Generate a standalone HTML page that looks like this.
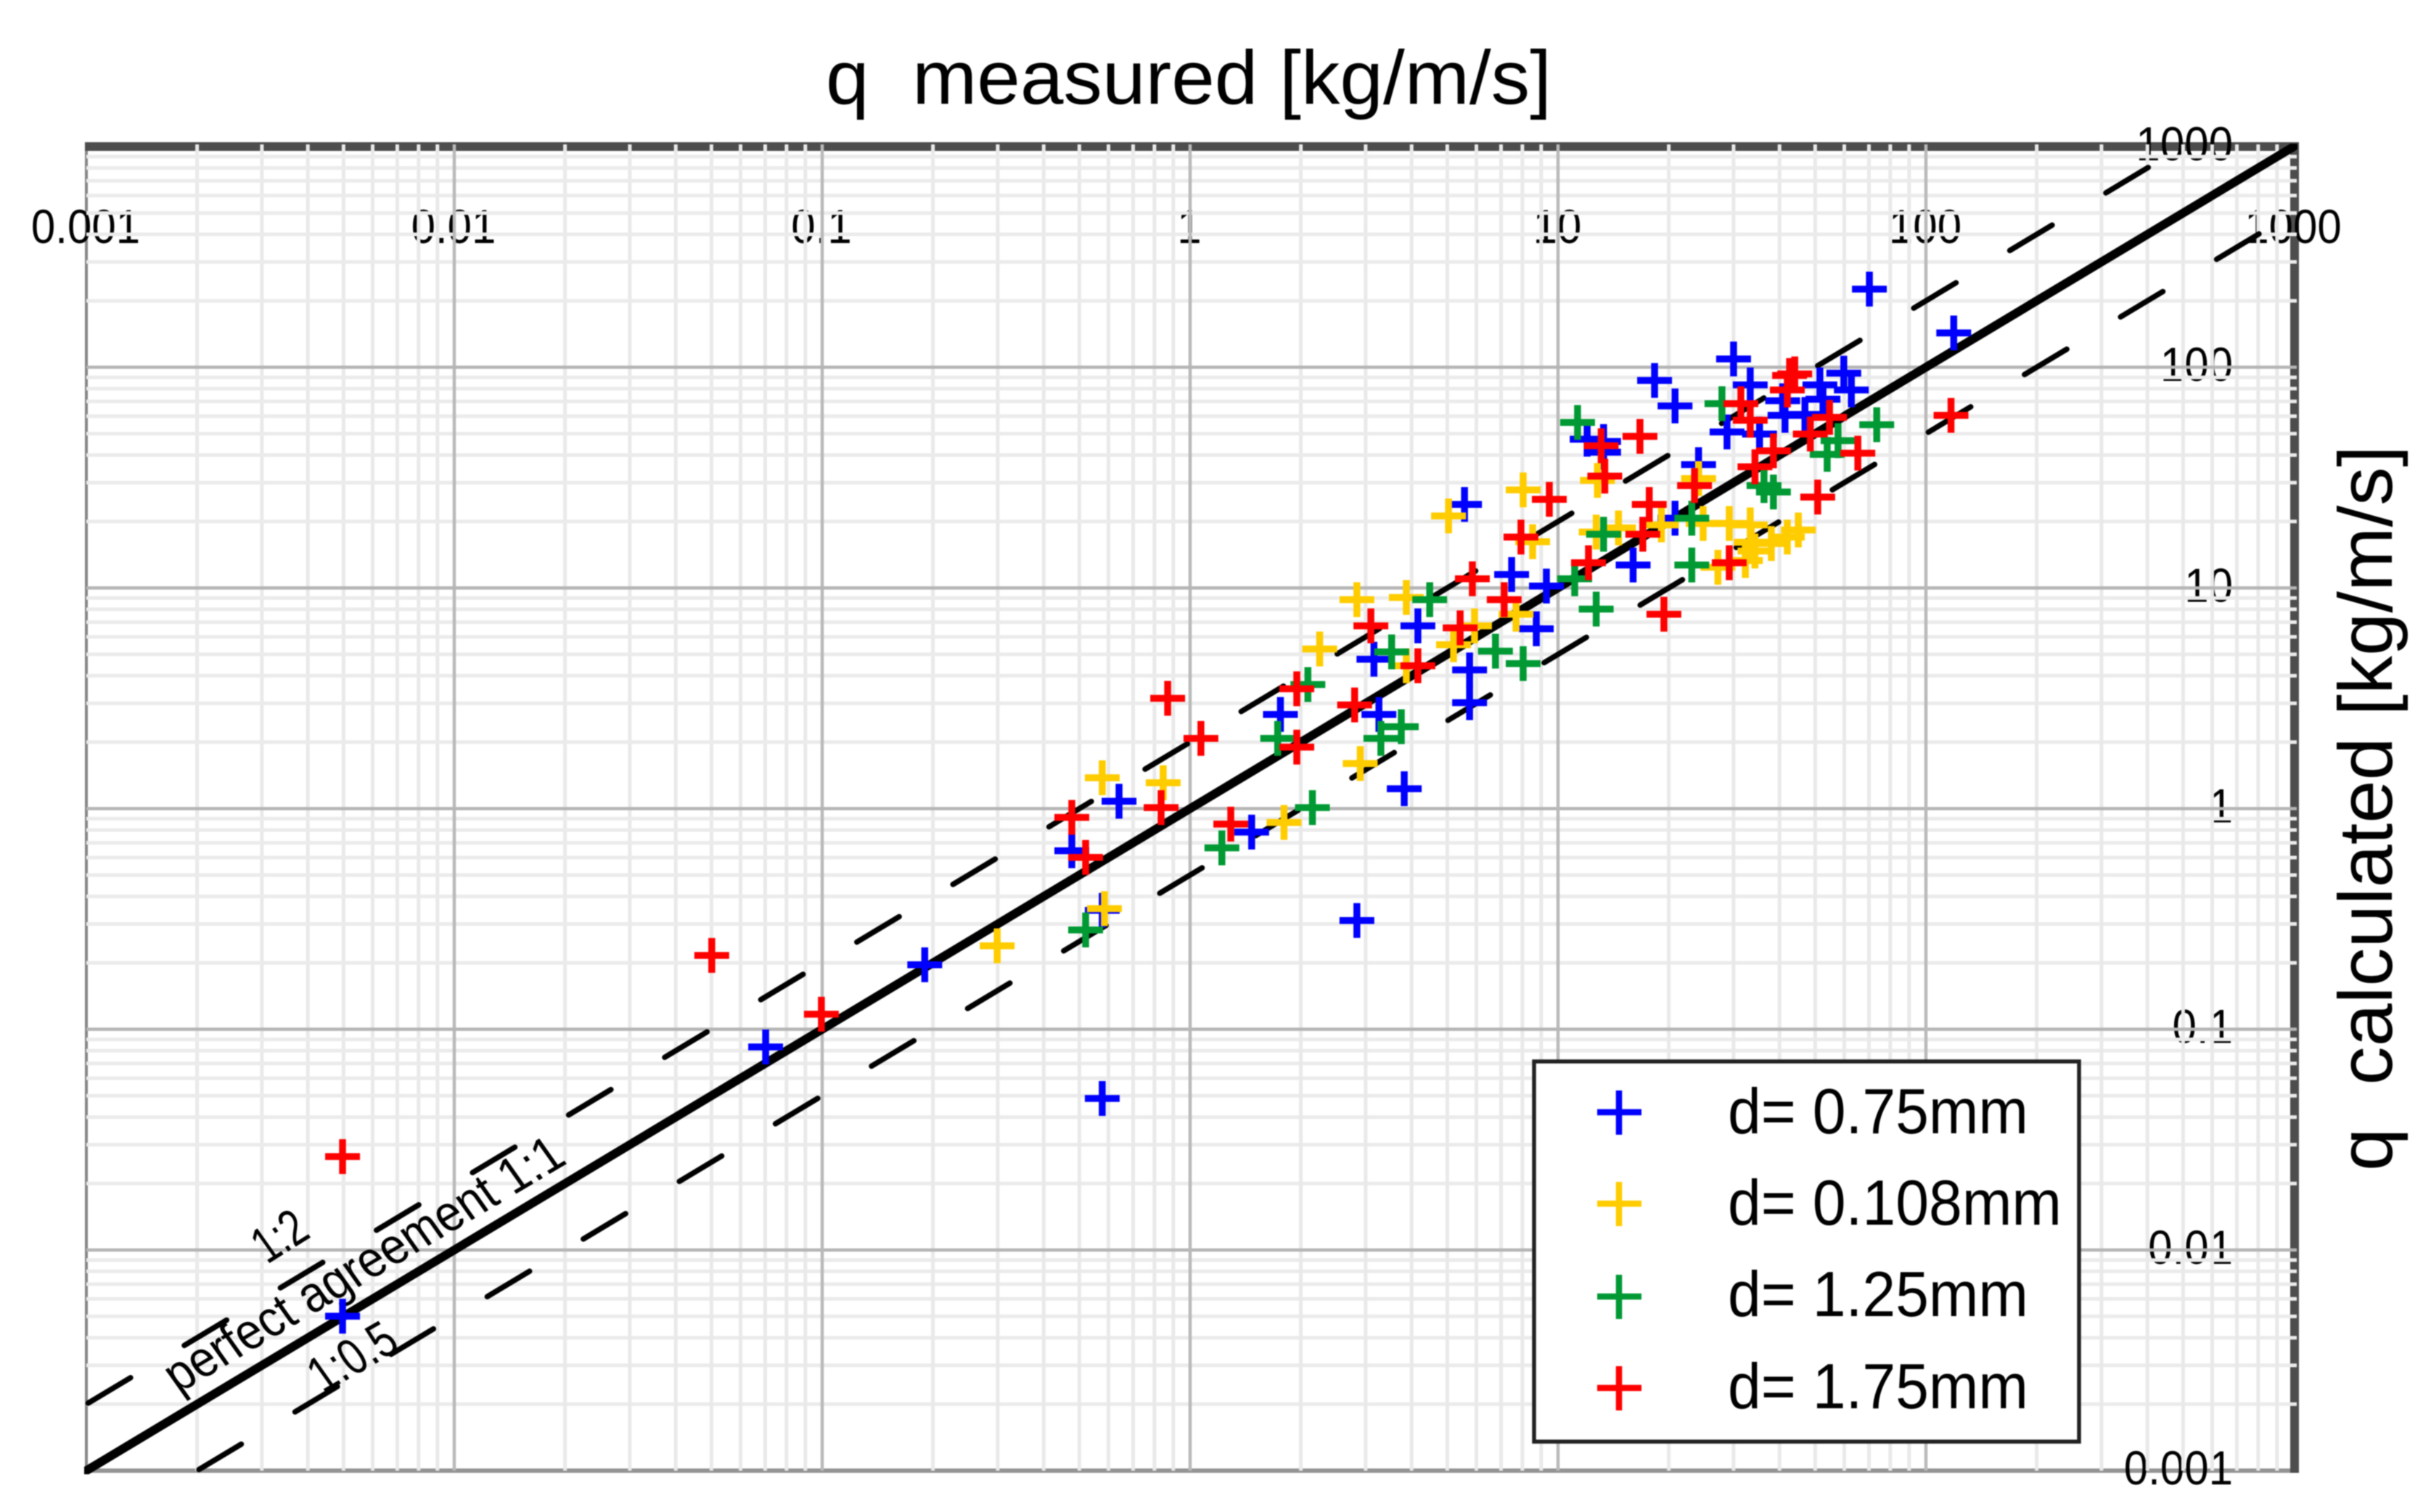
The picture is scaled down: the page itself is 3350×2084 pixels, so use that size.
<!DOCTYPE html>
<html lang="en">
<head>
<meta charset="utf-8">
<title>q measured vs q calculated</title>
<style>
  html, body { margin: 0; padding: 0; background: #fff; }
  svg { display: block; filter: blur(0.7px); }
  text { font-family: "Liberation Sans", sans-serif; fill: #000; white-space: pre; }
</style>
</head>
<body>
<svg id="chart" xmlns="http://www.w3.org/2000/svg" width="3350" height="2084" viewBox="0 0 3350 2084">
  <defs>
    <clipPath id="plot-clip"><rect x="116" y="198" width="3050" height="1834"/></clipPath>
  </defs>
  <rect x="0" y="0" width="3350" height="2084" fill="#fff"/>

  <g>
    <rect x="117" y="200" width="4" height="1829" fill="#858585"/>
    <rect x="117" y="2024" width="3048" height="6" fill="#949494"/>
    <rect x="117" y="196" width="3051" height="12" fill="#4d4d4d"/>
    <rect x="3156" y="196" width="12" height="1834" fill="#4d4d4d"/>
  </g>

  <g id="tick-labels"></g>
  <g id="grid"></g>
  <g id="reference-lines" clip-path="url(#plot-clip)"></g>

  <text transform="matrix(0.785,-0.465,0.592,0.837,246,1921)" font-size="70">perfect agreement 1:1</text>
  <text transform="matrix(0.64,-0.40,0.592,0.837,368,1743)" font-size="70">1:2</text>
  <text transform="matrix(0.70,-0.40,0.592,0.837,445,1921)" font-size="70">1:0.5</text>

  <g id="points"></g>

  <text x="1138" y="143" font-size="105" textLength="1000" lengthAdjust="spacingAndGlyphs">q  measured [kg/m/s]</text>
  <text transform="translate(3296,1614) rotate(-90)" font-size="105" textLength="1000" lengthAdjust="spacingAndGlyphs">q  calculated [kg/m/s]</text>

  <g>
    <rect x="2114" y="1463" width="751" height="524" fill="#fff" stroke="#222" stroke-width="5.5"/>
    <g>
      <path d="M2201 1533H2262M2231 1503V1564" stroke="#0000ff" stroke-width="8.5" fill="none"/>
      <text x="2381" y="1562" font-size="88" textLength="414" lengthAdjust="spacingAndGlyphs">d= 0.75mm</text>
    </g>
    <g>
      <path d="M2201 1659H2262M2231 1629V1690" stroke="#ffcc00" stroke-width="8.5" fill="none"/>
      <text x="2381" y="1688" font-size="88" textLength="460" lengthAdjust="spacingAndGlyphs">d= 0.108mm</text>
    </g>
    <g>
      <path d="M2201 1787H2262M2231 1757V1818" stroke="#009933" stroke-width="8.5" fill="none"/>
      <text x="2381" y="1814" font-size="88" textLength="414" lengthAdjust="spacingAndGlyphs">d= 1.25mm</text>
    </g>
    <g>
      <path d="M2201 1913H2262M2231 1883V1944" stroke="#ff0000" stroke-width="8.5" fill="none"/>
      <text x="2381" y="1941" font-size="88" textLength="414" lengthAdjust="spacingAndGlyphs">d= 1.75mm</text>
    </g>
  </g>
</svg>

<script>
// ---- chart data ----
const decades = [0.001, 0.01, 0.1, 1, 10, 100, 1000];
const xTickLabels = ["0.001", "0.01", "0.1", "1", "10", "100", "1000"];
const yTickLabels = ["0.001", "0.01", "0.1", "1", "10", "100", "1000"];
const minorMultipliers = [2, 3, 4, 5, 6, 7, 8, 9];
const dashedRatios = [2, 0.5];

const blueMeasured = [0.00497, 0.0702, 0.190, 0.577, 0.577, 0.477, 0.641, 1.47, 1.76, 2.84, 3.82, 3.16, 3.26, 4.16, 5.57, 5.75, 5.75, 7.48, 9.30, 8.73, 12.0, 13.3, 13.3, 16.0, 18.3, 20.8, 20.8, 24.1, 28.8, 30.0, 33.3, 35.3, 40.8, 41.4, 46.9, 51.5, 52.5, 59.8, 62.7, 70.2, 119];
const blueCalculated = [0.00501, 0.0832, 0.196, 0.0486, 0.346, 0.644, 1.08, 0.783, 2.67, 0.311, 1.23, 4.75, 2.67, 6.73, 23.9, 4.25, 3.02, 11.5, 10.2, 6.53, 47.2, 46.1, 41.2, 12.7, 87.1, 66.8, 20.7, 36.2, 50.9, 109, 83.2, 49.8, 70.5, 60.5, 61.1, 83.2, 71.6, 94.0, 78.9, 226, 143];

const yellowMeasured = [0.299, 0.585, 0.577, 0.845, 1.80, 2.90, 2.25, 2.84, 3.87, 3.87, 5.04, 5.2, 5.93, 7.69, 8.04, 8.53, 12.7, 12.8, 14.6, 19.1, 24.1, 24.8, 27.2, 29.2, 32.3, 33.3, 33.5, 34.3, 38.0, 42.0, 45.0];
const yellowCalculated = [0.239, 0.352, 1.38, 1.31, 0.865, 1.60, 5.29, 8.85, 9.05, 4.44, 21.2, 5.53, 6.73, 7.6, 27.8, 16.2, 17.9, 30.7, 18.7, 19.3, 31.3, 19.6, 12.4, 19.6, 13.3, 19.3, 16.1, 14.7, 15.9, 17.0, 18.3];

const greenMeasured = [0.520, 1.22, 1.73, 2.09, 2.15, 3.30, 3.53, 3.75, 4.48, 6.76, 8.04, 11.1, 11.3, 12.7, 13.3, 23.1, 23.1, 27.9, 36.3, 38.5, 53.9, 57.7, 73.5];
const greenCalculated = [0.282, 0.664, 2.08, 3.65, 1.01, 2.08, 5.13, 2.35, 8.85, 5.17, 4.54, 11.0, 56.2, 8.02, 17.5, 20.7, 12.7, 68.4, 29.1, 27.2, 40.3, 46.5, 54.9];

const redMeasured = [0.00497, 0.0501, 0.0995, 0.477, 0.520, 0.834, 0.869, 1.07, 1.29, 1.95, 1.95, 2.80, 3.10, 4.16, 5.42, 5.85, 7.14, 7.93, 9.47, 12.1, 13.1, 13.4, 16.7, 17.0, 17.7, 19.4, 23.5, 29.2, 31.4, 33.3, 34.3, 38.5, 42.0, 42.6, 44.0, 48.5, 50.8, 54.7, 65.3, 117];
const redCalculated = [0.0265, 0.216, 0.117, 0.912, 0.601, 1.01, 3.16, 2.08, 0.851, 3.49, 1.90, 2.95, 6.73, 4.44, 6.59, 11.0, 8.85, 17.0, 25.2, 13.0, 44.1, 32.1, 48.6, 17.5, 23.9, 7.60, 29.1, 13.0, 68.4, 57.5, 35.4, 41.8, 78.9, 91.8, 93.3, 49.8, 25.8, 59.3, 40.8, 60.5];

// ---- axis functions ----
const plotLeft = 119, plotRight = 3161, plotTop = 202, plotBottom = 2027;
const logMin = -3, logMax = 3;
function xScale(v) { return plotLeft + (Math.log10(v) - logMin) / (logMax - logMin) * (plotRight - plotLeft); }
function yScale(v) { return plotBottom - (Math.log10(v) - logMin) / (logMax - logMin) * (plotBottom - plotTop); }

const svgNS = "http://www.w3.org/2000/svg";
function make(tag, attrs, parent) {
  const node = document.createElementNS(svgNS, tag);
  for (const key in attrs) node.setAttribute(key, attrs[key]);
  parent.appendChild(node);
  return node;
}

// ---- tick labels (drawn under the grid, as in the figure) ----
const tickGroup = document.getElementById("tick-labels");
xTickLabels.forEach(function (label, i) {
  const px = xScale(decades[i]) - 1;
  const el = make("text", { transform: "translate(" + px + ",335) scale(0.91,1)", "font-size": 66, "text-anchor": "middle" }, tickGroup);
  
  
  el.textContent = label;
});
yTickLabels.forEach(function (label, i) {
  const py = yScale(decades[i]) + 19;
  const el = make("text", { transform: "translate(3077," + py + ") scale(0.91,1)", "font-size": 66, "text-anchor": "end" }, tickGroup);
  
  
  el.textContent = label;
});

// ---- grid ----
const gridGroup = document.getElementById("grid");
function addVertical(v, stroke, width) {
  const px = xScale(v);
  const el = make("line", { x1: px, x2: px, y1: plotTop - 3, y2: plotBottom, stroke: stroke, "stroke-width": width }, gridGroup);
  
  
}
function addHorizontal(v, stroke, width) {
  const py = yScale(v);
  const el = make("line", { x1: plotLeft, x2: plotRight + 4, y1: py, y2: py, stroke: stroke, "stroke-width": width }, gridGroup);
  
  
}
decades.slice(0, -1).forEach(function (d) {
  minorMultipliers.forEach(function (m) {
    addVertical(d * m, "#e9e9e9", 5);
    addHorizontal(d * m, "#ebebeb", 5);
  });
});
decades.slice(1, -1).forEach(function (d) {
  addVertical(d, "#b9b9b9", 4.5);
  addHorizontal(d, "#b5b5b5", 4.5);
});

// ---- reference lines ----
const refGroup = document.getElementById("reference-lines");
const oneToOne = make("line", { x1: xScale(0.001), y1: yScale(0.001), x2: xScale(1000), y2: yScale(1000), stroke: "#000", "stroke-width": 12, "stroke-linecap": "round" }, refGroup);


dashedRatios.forEach(function (r) {
  const startMeasured = r >= 1 ? 0.001 : 0.001 / r;
  const el = make("line", {
    x1: xScale(startMeasured), y1: yScale(startMeasured * r),
    x2: xScale(2000), y2: yScale(2000 * r),
    stroke: "#000", "stroke-width": 7.5, "stroke-linecap": "round",
    "stroke-dasharray": "68 86.4", "stroke-dashoffset": -3
  }, refGroup);
  
  
});

// ---- points ----
const pointGroup = document.getElementById("points");
const markerHalf = 24;
function addPoints(seriesName, color, measured, calculated) {
  const group = make("g", { stroke: color, "stroke-width": 9.5, fill: "none" }, pointGroup);
  
  
  measured.forEach(function (m, i) {
    const px = xScale(m), py = yScale(calculated[i]);
    const mark = make("path", { d: "M" + (px - markerHalf) + " " + py + "H" + (px + markerHalf) + "M" + px + " " + (py - markerHalf) + "V" + (py + markerHalf) }, group);
    
    
  });
}
addPoints("series-d-0.75mm", "#0000ff", blueMeasured, blueCalculated);
addPoints("series-d-0.108mm", "#ffcc00", yellowMeasured, yellowCalculated);
addPoints("series-d-1.25mm", "#009933", greenMeasured, greenCalculated);
addPoints("series-d-1.75mm", "#ff0000", redMeasured, redCalculated);
</script>
</body>
</html>
